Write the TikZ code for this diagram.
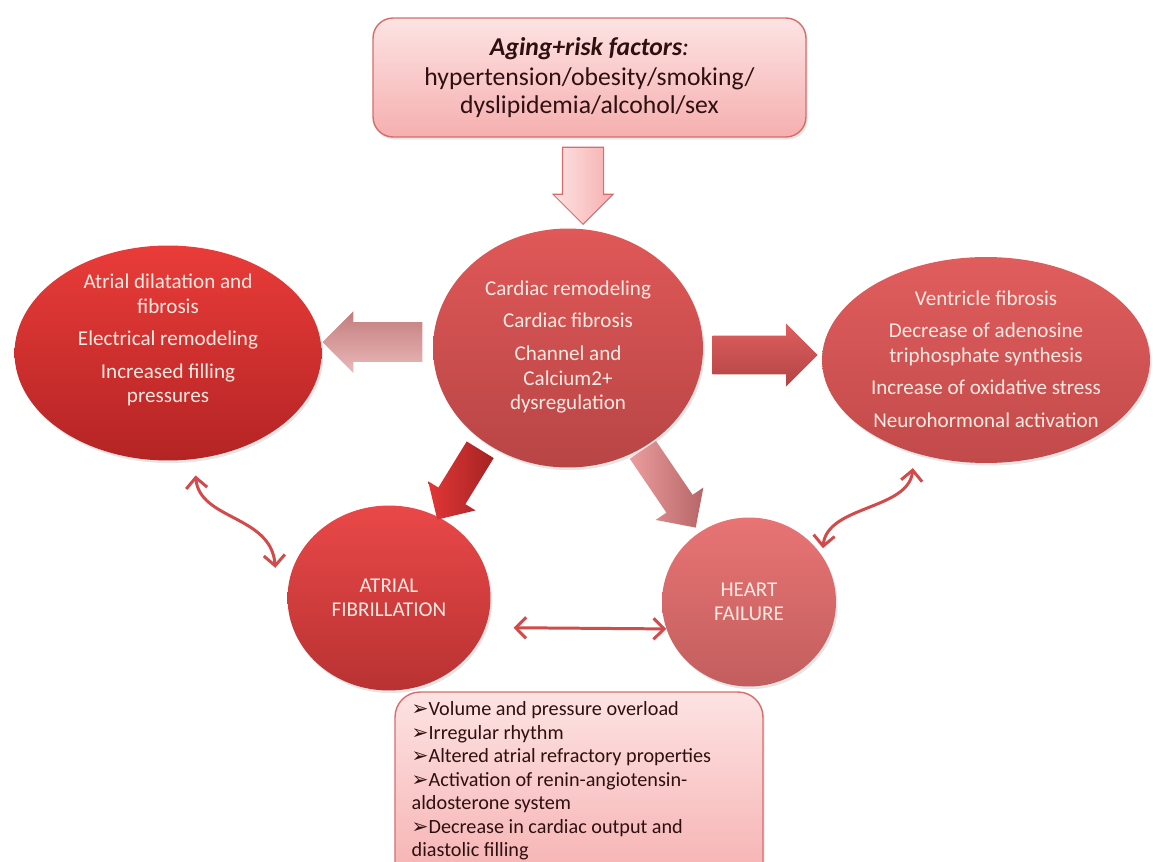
\documentclass[tikz,border=0pt]{standalone}
\usepackage{fontspec}
\setmainfont{Carlito}
\newfontfamily\dejavu{DejaVu Sans}
\usetikzlibrary{shapes.geometric,shapes.arrows,arrows.meta,shadows}
\definecolor{boxtop}{HTML}{FDE3E3}
\definecolor{boxbot}{HTML}{F6AFAF}
\definecolor{boxline}{HTML}{D86C6C}
\definecolor{lefttop}{HTML}{E93C39}
\definecolor{leftbot}{HTML}{B42424}
\definecolor{ctrtop}{HTML}{E05858}
\definecolor{ctrbot}{HTML}{B84545}
\definecolor{righttop}{HTML}{E05D5D}
\definecolor{rightbot}{HTML}{C24A4A}
\definecolor{aftop}{HTML}{E94848}
\definecolor{afbot}{HTML}{B93232}
\definecolor{hftop}{HTML}{E87474}
\definecolor{hfbot}{HTML}{C35E5E}
\definecolor{ovaltext}{HTML}{FCEAE2}
\definecolor{linkred}{HTML}{D24A4A}
\definecolor{darktext}{HTML}{2E1010}
\definecolor{arrlefttop}{HTML}{EBB9B9}
\definecolor{arrleftbot}{HTML}{C27C7C}
\definecolor{arrrighttop}{HTML}{DE5F5F}
\definecolor{arrrightbot}{HTML}{B34444}
\definecolor{arraftail}{HTML}{E23636}
\definecolor{arraftip}{HTML}{A52323}
\definecolor{arrhftail}{HTML}{EB9C9C}
\definecolor{arrhftip}{HTML}{B66666}
\newcommand{\bul}{{\dejavu ➢}}
\begin{document}
\begin{tikzpicture}[x=0.02cm,y=-0.02cm,
  oval/.style={ellipse, inner sep=0pt, drop shadow={opacity=0.2,shadow xshift=1pt,shadow yshift=-1.5pt}},
  ovaltxt/.style={align=center, text=ovaltext, font=\fontsize{12}{14}\selectfont},
  pinkbox/.style={rectangle, draw=boxline, line width=0.8pt, top color=boxtop, bottom color=boxbot, text=darktext, drop shadow={opacity=0.2,shadow xshift=1pt,shadow yshift=-1.5pt}},
  blockarrow/.style={single arrow, inner xsep=0pt, anchor=tip},
  link/.style={draw=linkred, line width=1.7pt, {Straight Barb[length=6pt,width=12pt]}-{Straight Barb[length=6pt,width=12pt]}}]
  \useasboundingbox (0,0) rectangle (1153,862);
  \node[pinkbox, rounded corners=0.4cm, minimum width=8.66cm, minimum height=2.38cm, align=center, font=\fontsize{14.6}{16}\selectfont] (risk) at (589.5,77.5) {\textbf{\textit{Aging+risk factors}}\textit{:}\\[1pt] hypertension/obesity/smoking/\\ dyslipidemia/alcohol/sex};
  \node[blockarrow, draw=boxline, line width=0.6pt, left color=boxtop, right color=boxbot, rotate=-90, inner ysep=0.4cm, single arrow head extend=0.19cm, minimum height=1.54cm] (arr-down) at (583,225) {};
  \node[oval, minimum width=5.4cm, minimum height=4.78cm, top color=ctrtop, bottom color=ctrbot] (cr) at (568,348) {};
  \node[ovaltxt] (cr-txt) at (568,347) {Cardiac remodeling\\[4.5pt] Cardiac fibrosis\\[4.5pt] Channel and\\ Calcium2+\\ dysregulation};
  \node[oval, minimum width=6.14cm, minimum height=4.3cm, top color=lefttop, bottom color=leftbot] (le) at (168,353) {};
  \node[ovaltxt] (le-txt) at (168,340) {Atrial dilatation and\\ fibrosis\\[4.5pt] Electrical remodeling\\[4.5pt] Increased filling\\ pressures};
  \node[oval, minimum width=6.56cm, minimum height=4.12cm, top color=righttop, bottom color=rightbot] (re) at (986,360) {};
  \node[ovaltxt] (re-txt) at (986,359) {Ventricle fibrosis\\[4.5pt] Decrease of adenosine\\ triphosphate synthesis\\[4.5pt] Increase of oxidative stress\\[4.5pt] Neurohormonal activation};
  \node[oval, ovaltxt, minimum width=4.06cm, minimum height=3.7cm, top color=aftop, bottom color=afbot, font=\fontsize{12}{13.5}\selectfont] (af) at (389,598) {ATRIAL\\ FIBRILLATION};
  \node[oval, ovaltxt, minimum width=3.48cm, minimum height=3.38cm, top color=hftop, bottom color=hfbot, font=\fontsize{12}{13.5}\selectfont] (hf) at (749,602) {HEART\\ FAILURE};
  \node[blockarrow, top color=arrleftbot, bottom color=arrlefttop, rotate=180, inner ysep=0.39cm, single arrow head extend=0.22cm, minimum height=2.0cm] (arr-left) at (322,342) {};
  \node[blockarrow, top color=arrrighttop, bottom color=arrrightbot, inner ysep=0.38cm, single arrow head extend=0.24cm, minimum height=2.1cm] (arr-right) at (818,355) {};
  \node[blockarrow, left color=arraftail, right color=arraftip, rotate=238.4, inner ysep=0.31cm, single arrow head extend=0.24cm, minimum height=1.64cm] (arr-af) at (437,520) {};
  \node[blockarrow, left color=arrhftail, right color=arrhftip, rotate=-55.8, inner ysep=0.31cm, single arrow head extend=0.26cm, minimum height=1.88cm] (arr-hf) at (696,528) {};
  \node[pinkbox, rounded corners=0.5cm, minimum width=7.36cm, minimum height=3.96cm] (mech) at (579,791) {};
  \node[anchor=north west, inner sep=0pt, align=left, text=darktext, font=\fontsize{11.5}{13.4}\selectfont] (mech-txt) at ([shift={(17,10)}]mech.north west) {\bul Volume and pressure overload\\ \bul Irregular rhythm\\ \bul Altered atrial refractory properties\\ \bul Activation of renin-angiotensin-\\ aldosterone system\\ \bul Decrease in cardiac output and\\ diastolic filling};
  \draw[link] ([shift={(3,16)}]le.-77) .. controls +(4,45) and +(-4,-53) .. ([shift={(-16,-4)}]af.165);
  \draw[link] ([shift={(-9,13)}]re.-124) .. controls +(-4,42) and +(4,-43) .. ([shift={(4,-3)}]hf.36);
  \draw[link, shorten <=0.56cm] (af.-17) -- (hf.198);
\end{tikzpicture}
\end{document}
